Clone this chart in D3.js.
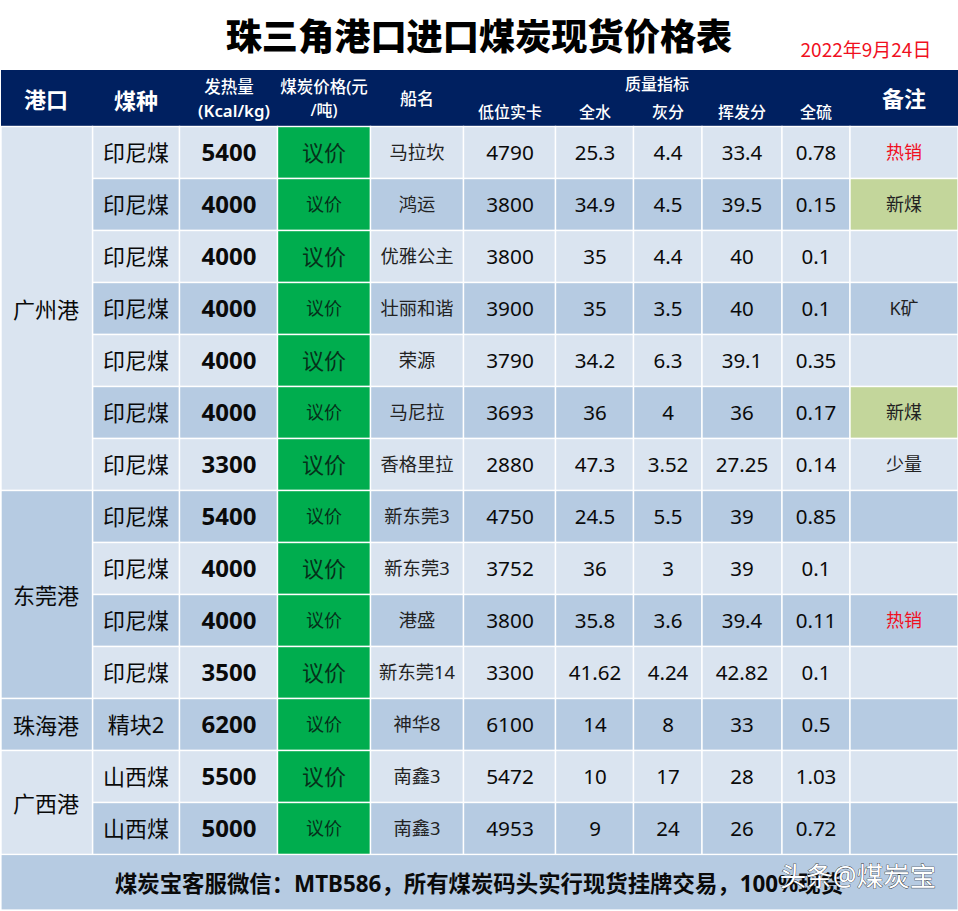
<!DOCTYPE html>
<html><head><meta charset="utf-8">
<script src="https://cdnjs.cloudflare.com/ajax/libs/d3/7.8.5/d3.min.js"></script>
<style>html,body{margin:0;padding:0;background:#fff;overflow:hidden}svg{display:block}
text{font-family:"Noto Sans","Noto Sans CJK SC",sans-serif;text-anchor:middle;dominant-baseline:central}</style>
</head><body><svg id="c" width="958" height="911"></svg>
<script>
const title="珠三角港口进口煤炭现货价格表";
const dateLabel="2022年9月24日";
const footerMain="煤炭宝客服微信：MTB586，所有煤炭码头实行现货挂牌交易，100%现货";
const watermark="头条@煤炭宝";
const qualityHeader="质量指标";
const columns=["港口","煤种","发热量","煤炭价格","船名","低位实卡","全水","灰分","挥发分","全硫","备注"];
const ports=[["广州港",7],["东莞港",4],["珠海港",1],["广西港",2]];
const coal=["印尼煤","印尼煤","印尼煤","印尼煤","印尼煤","印尼煤","印尼煤","印尼煤","印尼煤","印尼煤","印尼煤","精块2","山西煤","山西煤"];
const heat=[5400,4000,4000,4000,4000,4000,3300,5400,4000,4000,3500,6200,5500,5000];
const price=coal.map(()=>"议价");
const ships=["马拉坎","鸿运","优雅公主","壮丽和谐","荣源","马尼拉","香格里拉","新东莞3","新东莞3","港盛","新东莞14","神华8","南鑫3","南鑫3"];
const actual=[4790,3800,3800,3900,3790,3693,2880,4750,3752,3800,3300,6100,5472,4953];
const water=["25.3","34.9","35","35","34.2","36","47.3","24.5","36","35.8","41.62","14","10","9"];
const ash=["4.4","4.5","4.4","3.5","6.3","4","3.52","5.5","3","3.6","4.24","8","17","24"];
const volatile=["33.4","39.5","40","40","39.1","36","27.25","39","39","39.4","42.82","33","28","26"];
const sulfur=["0.78","0.15","0.1","0.1","0.35","0.17","0.14","0.85","0.1","0.11","0.1","0.5","1.03","0.72"];
const notes=["热销","新煤","","K矿","","新煤","少量","","","热销","","","",""];

const LIGHT="#dae4f0",DARK="#b6cbe2",NAVY="#002060",GREEN="#00ad4e",LIME="#c3d69b",RED="#f00f1e";
const edges=[1,92.5,179.5,277.5,370.5,463.5,555.5,633.5,702,782,850,958];
const x=d3.scaleOrdinal().domain(columns).range(edges.slice(0,-1));
const xEnd=d3.scaleOrdinal().domain(columns).range(edges.slice(1));
const xMid=c=>(x(c)+xEnd(c))/2;
const y=d3.scaleBand().domain(d3.range(coal.length)).range([126.5,854.5]);
const svg=d3.select("#c");
function label(t,px,py,size,opt={}){
  return svg.append("text").attr("x",px).attr("y",py).attr("font-size",size)
    .attr("font-weight",opt.w||400).attr("fill",opt.c||"#0a0a0a").text(t);
}
function cell(c,top,h,fill){
  svg.append("rect").attr("x",x(c)).attr("y",top).attr("width",xEnd(c)-x(c)).attr("height",h)
    .attr("fill",fill).attr("stroke","#fff").attr("stroke-width",1.4);
}
label(title,479,36,36.2,{w:900,c:"#000"});
label(dateLabel,866,48.5,19,{c:RED}).style("font-family",'"Noto Sans CJK SC"');

svg.append("rect").attr("x",1).attr("y",70).attr("width",957).attr("height",56).attr("fill",NAVY);
const W="#fff";
label("港口",46,99,22,{w:700,c:W});
label("煤种",136,100,22,{w:700,c:W});
label("发热量",229,86,16.5,{w:500,c:W});
label("(Kcal/kg)",234,110,16.8,{w:600,c:W});
label("煤炭价格(元",324,86,16.5,{w:500,c:W});
label("/吨)",324,110,16,{w:500,c:W});
label("船名",417,98,17,{w:500,c:W});
label(qualityHeader,657,84,16,{w:500,c:W});
[["低位实卡",510],["全水",595],["灰分",668],["挥发分",742],["全硫",816]].forEach(([t,p])=>label(t,p,112,16,{w:500,c:W}));
label("备注",904,98,22,{w:700,c:W});

coal.forEach((_,i)=>{
  const top=y(i),h=y.bandwidth(),mid=top+h/2,bg=i%2?DARK:LIGHT;
  columns.slice(1).forEach(c=>{
    let f=bg;
    if(c==="煤炭价格")f=GREEN;
    if(c==="备注"&&notes[i]==="新煤")f=LIME;
    cell(c,top,h,f);
  });
  label(coal[i],xMid("煤种"),mid-1,22);
  label(heat[i],229,mid-1,24,{w:700});
  label(price[i],xMid("煤炭价格"),mid-1,i%2?18:22,{c:"#06301a"});
  label(ships[i],xMid("船名"),mid-1,18.3,{c:"#222"});
  label(actual[i],510,mid-.5,20.8);
  label(water[i],595,mid-.5,20.5);
  label(ash[i],668,mid-.5,20.5);
  label(volatile[i],742,mid-.5,20.5);
  label(sulfur[i],816,mid-.5,20.5);
  if(notes[i])label(notes[i],904,mid-.5,18,{c:notes[i]==="热销"?RED:"#222"});
});
let start=0;
ports.forEach(([name,n])=>{
  const top=y(start),h=y.bandwidth()*n;
  cell("港口",top,h,(start===7||start===11)?DARK:LIGHT);
  label(name,46,top+h/2,22);
  start+=n;
});
svg.append("rect").attr("x",1).attr("y",854.5).attr("width",957).attr("height",55.5).attr("fill",DARK).attr("stroke","#fff").attr("stroke-width",1.2);
label(footerMain,479,883,22.4,{w:700});
// The reference's platform watermark sits on top of the footer's last characters.
svg.append("text").attr("x",858).attr("y",876).attr("font-size",26.5).attr("fill","#fff")
  .attr("stroke","#222").attr("stroke-width",.7).attr("paint-order","stroke").text(watermark);
</script></body></html>
